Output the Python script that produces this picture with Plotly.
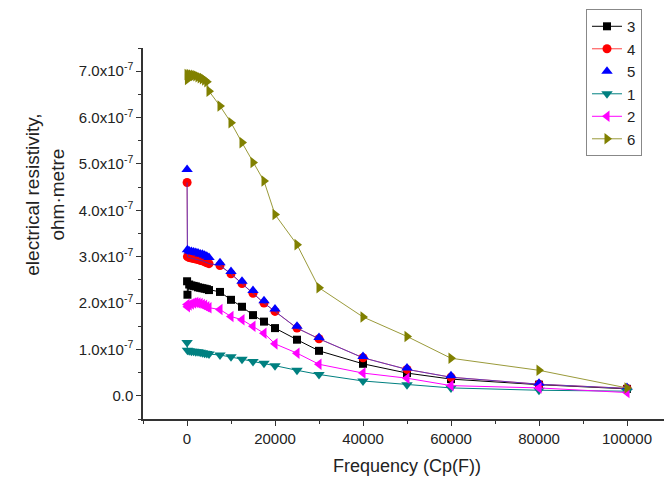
import plotly.graph_objects as go

freq = [20, 100, 500, 1000, 1500, 2000, 2500, 3000, 3500, 4000, 4500, 5000, 7500,
        10000, 12500, 15000, 17500, 20000, 25000, 30000, 40000, 50000, 60000, 80000, 100000]

# resistivity values in units of 1e-7 ohm·metre
s3 = [2.47, 2.18, 2.40, 2.38, 2.37, 2.36, 2.34, 2.33, 2.32, 2.31, 2.30, 2.28, 2.24,
      2.07, 1.92, 1.74, 1.60, 1.46, 1.21, 0.97, 0.69, 0.49, 0.36, 0.24, 0.15]
s4 = [4.60, 3.00, 2.98, 2.97, 2.96, 2.95, 2.94, 2.92, 2.91, 2.89, 2.87, 2.85, 2.81,
      2.63, 2.42, 2.21, 2.00, 1.82, 1.46, 1.23, 0.82, 0.57, 0.40, 0.25, 0.16]
s5 = [4.88, 3.15, 3.12, 3.11, 3.10, 3.09, 3.08, 3.06, 3.05, 3.03, 3.01, 2.98, 2.87,
      2.68, 2.47, 2.27, 2.05, 1.87, 1.50, 1.26, 0.85, 0.60, 0.43, 0.27, 0.18]
s1 = [1.15, 0.98, 0.97, 0.96, 0.96, 0.95, 0.95, 0.94, 0.93, 0.92, 0.91, 0.90, 0.88,
      0.84, 0.79, 0.74, 0.70, 0.65, 0.55, 0.46, 0.32, 0.24, 0.17, 0.12, 0.10]
s2 = [1.97, 1.92, 1.96, 1.98, 2.00, 2.01, 2.00, 1.99, 1.97, 1.95, 1.92, 1.90, 1.86,
      1.71, 1.64, 1.50, 1.35, 1.12, 0.92, 0.68, 0.49, 0.38, 0.22, 0.17, 0.07]
s6 = [6.93, 6.82, 6.93, 6.92, 6.91, 6.90, 6.88, 6.86, 6.84, 6.81, 6.77, 6.57, 6.25,
      5.89, 5.46, 5.03, 4.63, 3.91, 3.26, 2.33, 1.70, 1.28, 0.81, 0.55, 0.17]

scale = 1e-7
ytick_vals = [0, 1, 2, 3, 4, 5, 6, 7]
ytick_text = ["0.0"] + [f"{v:.1f}x10<sup>-7</sup>" for v in ytick_vals[1:]]
xtick_vals = [0, 20000, 40000, 60000, 80000, 100000]

def sc(a):
    return [v * scale for v in a]

fig = go.Figure()
fig.add_trace(go.Scatter(x=freq, y=sc(s3), name="3", mode="lines+markers",
                         line=dict(color="#000000", width=1),
                         marker=dict(symbol="square", size=8, color="#000000")))
fig.add_trace(go.Scatter(x=freq, y=sc(s4), name="4", mode="lines+markers",
                         line=dict(color="#ff4040", width=1),
                         marker=dict(symbol="circle", size=9, color="#ff0000")))
fig.add_trace(go.Scatter(x=freq, y=sc(s4), name="4b", mode="lines", showlegend=False,
                         line=dict(color="#3030e0", width=1), opacity=0.75,
                         hoverinfo="skip"))
fig.add_trace(go.Scatter(x=freq, y=sc(s5), name="5", mode="markers",
                         marker=dict(symbol="triangle-up", size=10, color="#0000ff")))
fig.add_trace(go.Scatter(x=freq, y=sc(s1), name="1", mode="lines+markers",
                         line=dict(color="#008080", width=1),
                         marker=dict(symbol="triangle-down", size=10, color="#008080")))
fig.add_trace(go.Scatter(x=freq, y=sc(s2), name="2", mode="lines+markers",
                         line=dict(color="#ff00ff", width=1),
                         marker=dict(symbol="triangle-left", size=10, color="#ff00ff")))
fig.add_trace(go.Scatter(x=freq, y=sc(s6), name="6", mode="lines+markers",
                         line=dict(color="#9a9a3a", width=1),
                         marker=dict(symbol="triangle-right", size=10, color="#808000")))

fig.update_layout(
    width=672, height=478,
    margin=dict(l=135, r=9, t=40, b=67, autoexpand=False),
    paper_bgcolor="white", plot_bgcolor="white",
    font=dict(family="Liberation Sans, Arial, sans-serif", color="#222222", size=15),
    showlegend=True,
    legend=dict(x=0.839, y=1.105, xanchor="left", yanchor="top",
                bordercolor="#888888", borderwidth=1, bgcolor="white",
                font=dict(size=15, color="#222222"), tracegroupgap=0,
                itemwidth=30),
    xaxis=dict(range=[-10000, 110000], tickvals=xtick_vals,
               ticktext=[str(v) for v in xtick_vals],
               showgrid=False, zeroline=False, showline=True,
               linecolor="#333333", linewidth=1.5, ticks="outside", ticklen=5,
               tickcolor="#333333",
               minor=dict(tickvals=[-10000, 10000, 30000, 50000, 70000, 90000, 110000],
                          ticks="outside", ticklen=3, tickcolor="#333333"),
               title=dict(text="Frequency (Cp(F))", font=dict(size=18), standoff=14)),
    yaxis=dict(range=[-0.5e-7, 7.5e-7], tickvals=sc(ytick_vals), ticktext=ytick_text,
               showgrid=False, zeroline=False, showline=True,
               linecolor="#333333", linewidth=1.5, ticks="outside", ticklen=5,
               tickcolor="#333333",
               minor=dict(tickvals=sc([-0.5, 0.5, 1.5, 2.5, 3.5, 4.5, 5.5, 6.5, 7.5]),
                          ticks="outside", ticklen=3, tickcolor="#333333")),
    annotations=[dict(text="electrical resistivity,<br>ohm·metre", textangle=-90,
                      xref="paper", yref="paper", x=-0.186, y=0.604,
                      xanchor="center", yanchor="middle", showarrow=False,
                      font=dict(size=19, color="#222222"))],
)

fig.write_html("out.html")
